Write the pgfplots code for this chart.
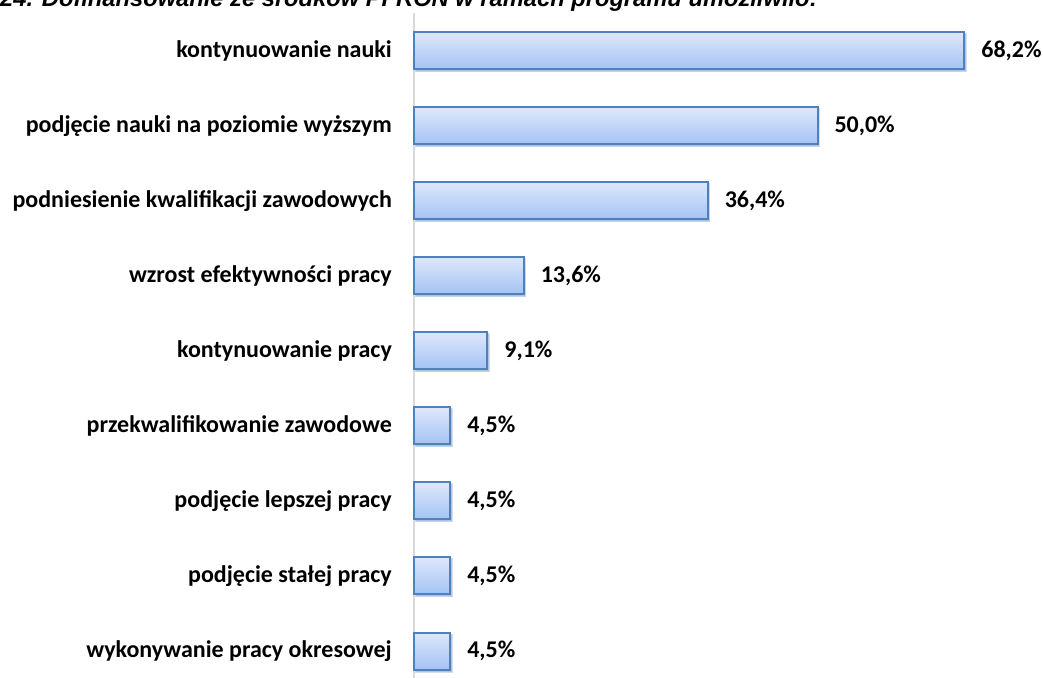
\documentclass[border=0pt]{standalone}
\usepackage{fontspec}
\setmainfont{Carlito}
\newfontfamily\titlefont{Liberation Sans}
\usepackage{pgfplots}
\pgfplotsset{compat=1.18}
\usetikzlibrary{shadows}
\definecolor{barborder}{HTML}{4F81BD}
\definecolor{bartop}{HTML}{DEE8FB}
\definecolor{barbot}{HTML}{A3C2F4}
\definecolor{axisgray}{HTML}{D9D9D9}
\pgfplotsset{
  barstyle/.style={draw=barborder, line width=2pt, top color=bartop, bottom color=barbot,
    drop shadow={shadow xshift=1.5pt, shadow yshift=-2pt, opacity=0.25}}
}
\begin{document}
\begin{tikzpicture}[x=1pt,y=1pt]
\begin{axis}[
  at={(414pt,663.5pt)}, anchor=north west,
  scale only axis, width=605.25pt, height=675pt,
  xbar, bar width=37pt, bar shift=0pt,
  xmin=0, xmax=75, ymin=-0.5, ymax=8.5,
  axis x line=none, axis y line*=left,
  axis line style={draw=axisgray, line width=1.5pt, -},
  ytick={0,...,8},
  yticklabels={wykonywanie pracy okresowej, podjęcie stałej pracy, podjęcie lepszej pracy, przekwalifikowanie zawodowe, kontynuowanie pracy, wzrost efektywności pracy, podniesienie kwalifikacji zawodowych, podjęcie nauki na poziomie wyższym, kontynuowanie nauki},
  y tick label style={font=\fontsize{24}{28}\selectfont\bfseries, anchor=east, inner sep=0pt, xshift=-22pt},
  major tick length=0pt,
  clip=false,
  /pgf/number format/assume math mode=true,
  point meta=x,
  nodes near coords={\pgfmathprintnumber[fixed,fixed zerofill,precision=1,use comma]{\pgfplotspointmeta}\%},
  every node near coord/.append style={font=\fontsize{24}{28}\selectfont\bfseries, anchor=west, inner sep=0pt, xshift=16pt, text=black},
]
\addplot[barstyle] coordinates {(4.5,0)};
\addplot[barstyle] coordinates {(4.5,1)};
\addplot[barstyle] coordinates {(4.5,2)};
\addplot[barstyle] coordinates {(4.5,3)};
\addplot[barstyle] coordinates {(9.1,4)};
\addplot[barstyle] coordinates {(13.6,5)};
\addplot[barstyle] coordinates {(36.4,6)};
\addplot[barstyle] coordinates {(50.0,7)};
\addplot[barstyle] coordinates {(68.2,8)};
\end{axis}
\node[anchor=base west, inner sep=0pt, font=\titlefont\bfseries\itshape\fontsize{23.7}{28}\selectfont] at (0pt,670pt) {24. Dofinansowanie ze środków PFRON w ramach programu umożliwiło:};
\pgfresetboundingbox
\useasboundingbox (0pt,0pt) rectangle (1043pt,677pt);
\end{tikzpicture}
\end{document}
